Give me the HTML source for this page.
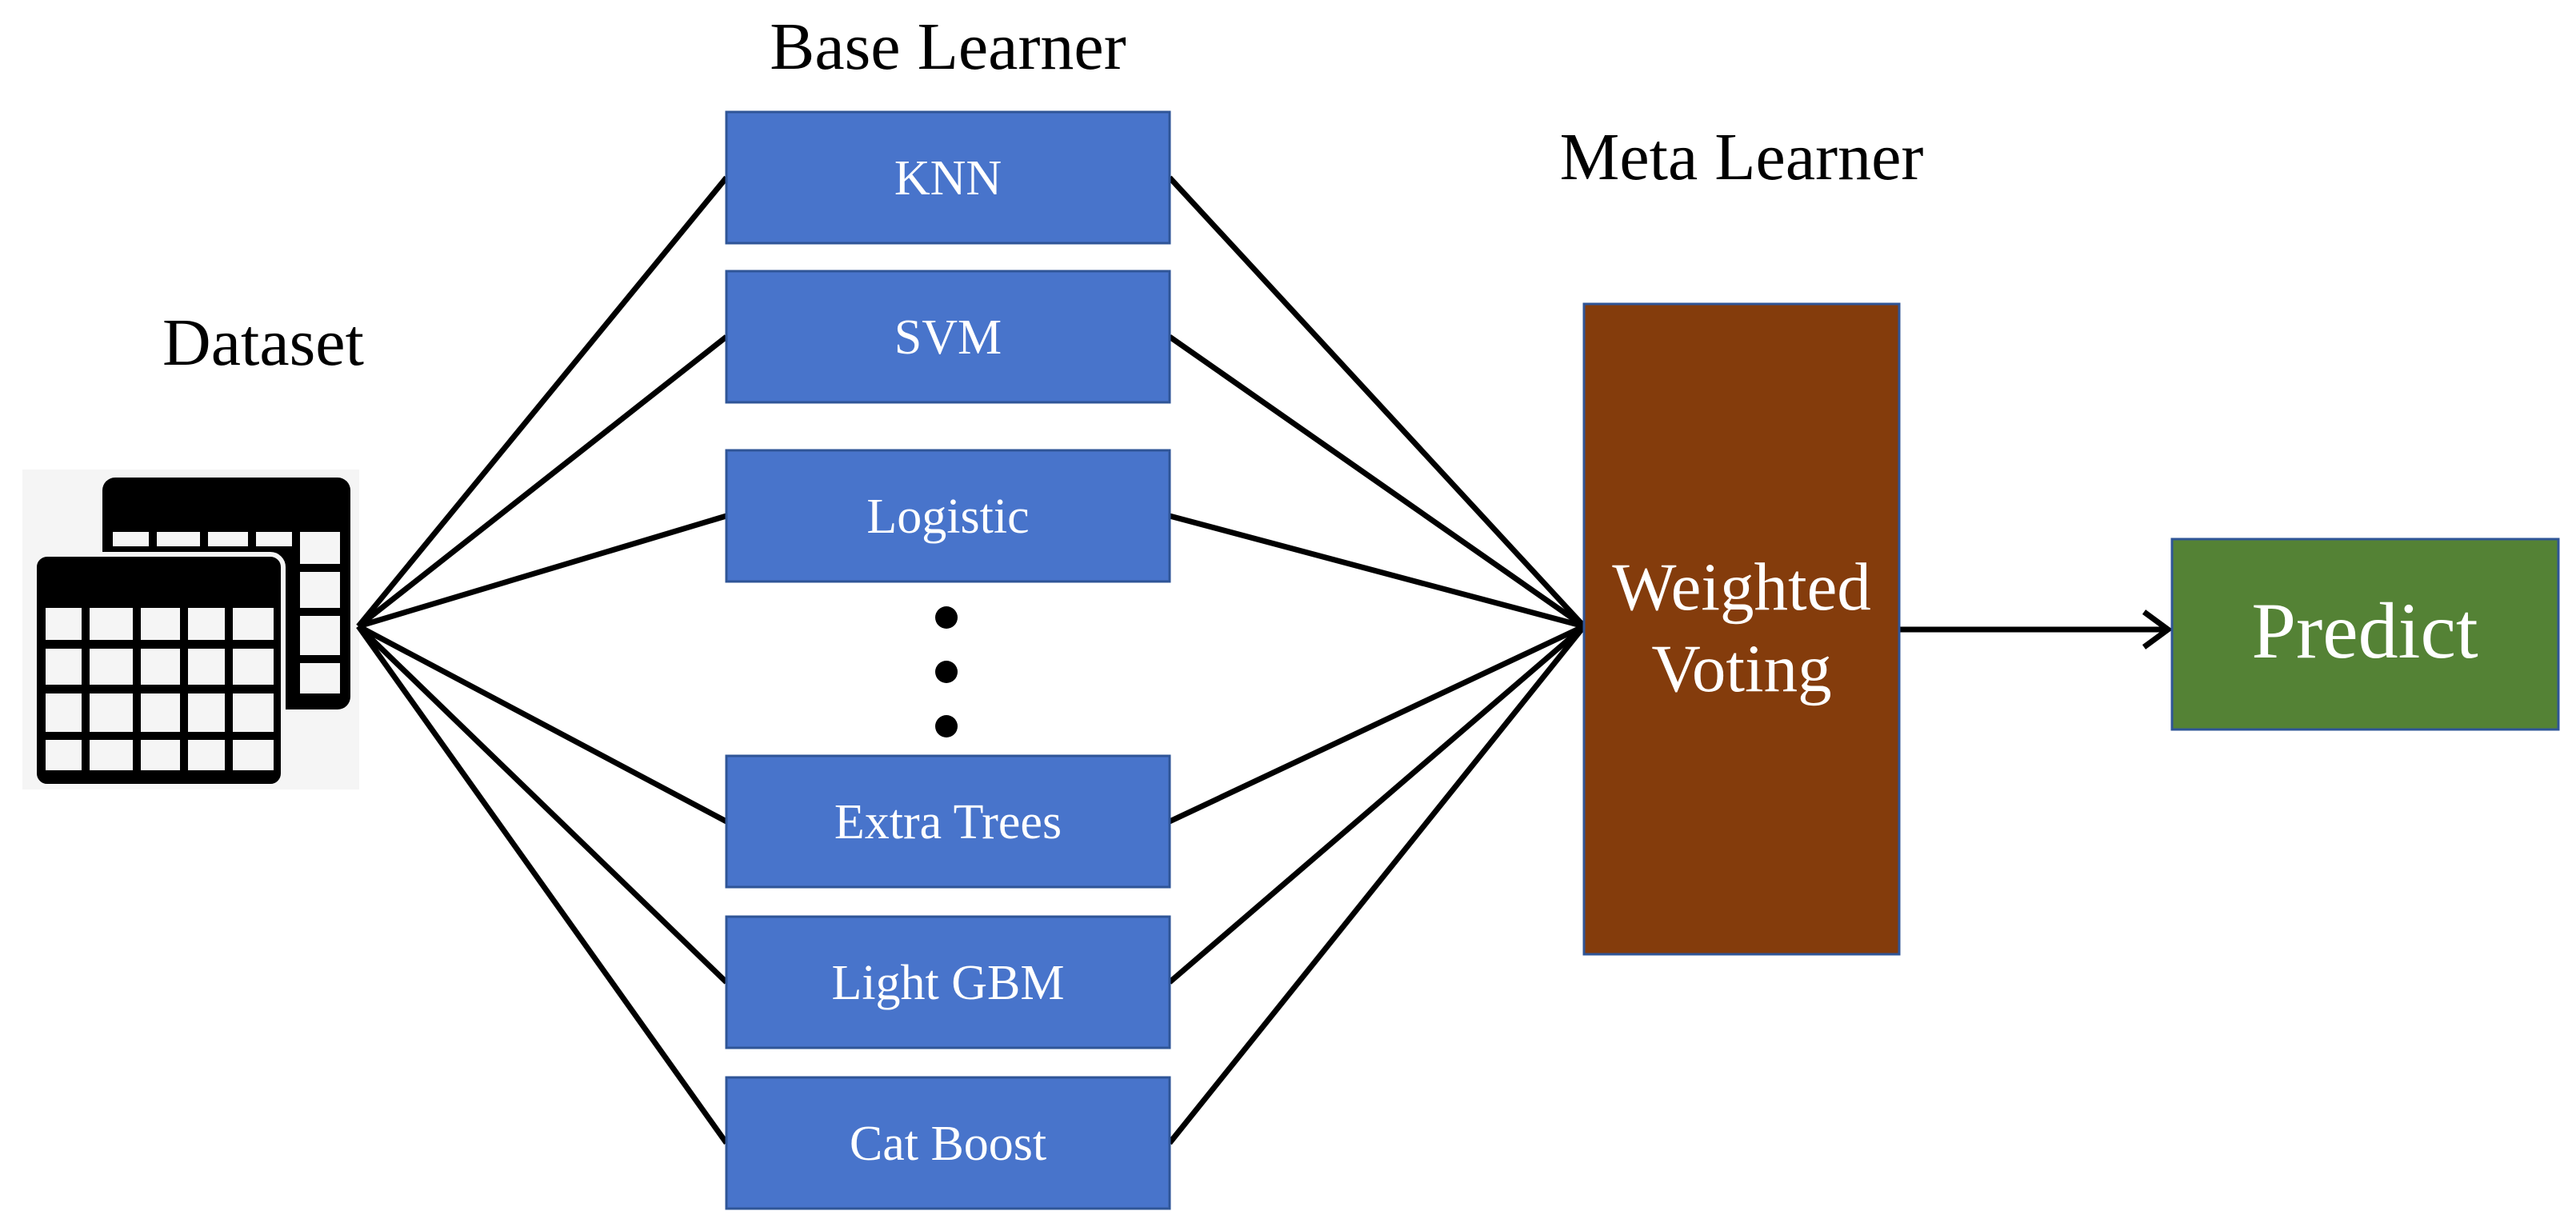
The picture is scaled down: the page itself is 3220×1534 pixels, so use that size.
<!DOCTYPE html>
<html><head><meta charset="utf-8"><style>
html,body{margin:0;padding:0;background:#fff;}
svg{display:block;}
text{font-family:"Liberation Serif",serif;}
</style></head><body>
<svg width="3220" height="1534" viewBox="0 0 3220 1534" xmlns="http://www.w3.org/2000/svg">
<rect width="3220" height="1534" fill="#fff"/>
<rect x="28" y="587" width="421" height="400" fill="#f5f5f5"/>
<rect x="128" y="597" width="310" height="290" rx="16" fill="#000"/>
<g fill="#f5f5f5">
<rect x="141" y="665" width="45" height="18"/><rect x="196" y="665" width="54" height="18"/>
<rect x="260" y="665" width="50" height="18"/><rect x="320" y="665" width="45" height="18"/>
<rect x="375" y="665" width="50" height="40"/><rect x="375" y="715" width="50" height="45"/>
<rect x="375" y="770" width="50" height="49"/><rect x="375" y="829" width="50" height="38"/>
</g>
<rect x="43" y="693" width="311" height="290" rx="16" fill="#000" stroke="#f5f5f5" stroke-width="6"/>
<g fill="#f5f5f5">
<rect x="57" y="760" width="45" height="40"/><rect x="112" y="760" width="54" height="40"/><rect x="176" y="760" width="49" height="40"/><rect x="235" y="760" width="46" height="40"/><rect x="291" y="760" width="51" height="40"/>
<rect x="57" y="811" width="45" height="45"/><rect x="112" y="811" width="54" height="45"/><rect x="176" y="811" width="49" height="45"/><rect x="235" y="811" width="46" height="45"/><rect x="291" y="811" width="51" height="45"/>
<rect x="57" y="867" width="45" height="48"/><rect x="112" y="867" width="54" height="48"/><rect x="176" y="867" width="49" height="48"/><rect x="235" y="867" width="46" height="48"/><rect x="291" y="867" width="51" height="48"/>
<rect x="57" y="925" width="45" height="38"/><rect x="112" y="925" width="54" height="38"/><rect x="176" y="925" width="49" height="38"/><rect x="235" y="925" width="46" height="38"/><rect x="291" y="925" width="51" height="38"/>
</g>
<g stroke="#000" stroke-width="7" fill="none">
<line x1="448" y1="783" x2="908" y2="222"/>
<line x1="448" y1="783" x2="908" y2="421"/>
<line x1="448" y1="783" x2="908" y2="645"/>
<line x1="448" y1="783" x2="908" y2="1027"/>
<line x1="448" y1="783" x2="908" y2="1228"/>
<line x1="448" y1="783" x2="908" y2="1429"/>
<line x1="1980" y1="783" x2="1462" y2="222"/>
<line x1="1980" y1="783" x2="1462" y2="421"/>
<line x1="1980" y1="783" x2="1462" y2="645"/>
<line x1="1980" y1="783" x2="1462" y2="1027"/>
<line x1="1980" y1="783" x2="1462" y2="1228"/>
<line x1="1980" y1="783" x2="1462" y2="1429"/>
<line x1="2374" y1="787" x2="2705" y2="787"/>
<polyline points="2680,765 2710,787 2680,809"/>
</g>
<g fill="#4874CB" stroke="#2F5597" stroke-width="3">
<rect x="908" y="140" width="554" height="164"/>
<rect x="908" y="339" width="554" height="164"/>
<rect x="908" y="563" width="554" height="164"/>
<rect x="908" y="945" width="554" height="164"/>
<rect x="908" y="1146" width="554" height="164"/>
<rect x="908" y="1347" width="554" height="164"/>
</g>
<g fill="#fff" font-size="62" text-anchor="middle">
<text x="1185" y="243">KNN</text>
<text x="1185" y="442">SVM</text>
<text x="1185" y="666">Logistic</text>
<text x="1185" y="1048">Extra Trees</text>
<text x="1185" y="1249">Light GBM</text>
<text x="1185" y="1450">Cat Boost</text>
</g>
<g fill="#000"><circle cx="1183" cy="772" r="14"/><circle cx="1183" cy="840" r="14"/><circle cx="1183" cy="908" r="14"/></g>
<rect x="1980" y="380" width="394" height="813" fill="#843C0C" stroke="#2F5597" stroke-width="3"/>
<text x="2177" y="762" fill="#fff" font-size="85" text-anchor="middle">Weighted</text>
<text x="2177" y="864" fill="#fff" font-size="85" text-anchor="middle">Voting</text>
<rect x="2715" y="674" width="483" height="238" fill="#548235" stroke="#2F5597" stroke-width="3"/>
<text x="2956" y="822" fill="#fff" font-size="100" text-anchor="middle">Predict</text>
<g fill="#000" font-size="84" text-anchor="middle">
<text x="1185" y="86">Base Learner</text>
<text x="2177" y="224">Meta Learner</text>
<text x="329" y="456">Dataset</text>
</g>
</svg>
</body></html>
